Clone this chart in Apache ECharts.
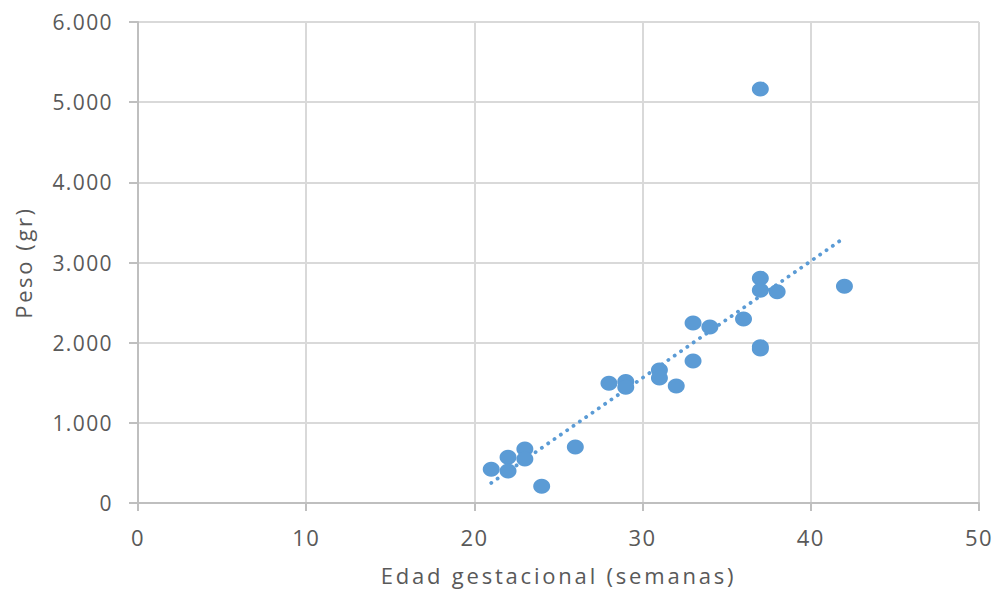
<!DOCTYPE html>
<html>
<head>
<meta charset="utf-8">
<script src="https://cdn.jsdelivr.net/npm/echarts@6/dist/echarts.min.js"></script>
<style>
  html, body { margin: 0; padding: 0; background: #fff; }
  #chart { width: 996px; height: 591px; }
</style>
</head>
<body>
<div id="chart"></div>
<script>
// semanas de gestación y peso al nacer (gr)
var edad = [21, 22, 22, 23, 23, 24, 26, 28, 29, 29, 31, 31, 32, 33, 33, 34, 36, 37, 37, 37, 37, 37, 38, 42];
var peso = [420, 570, 400, 675, 550, 210, 700, 1495, 1515, 1445, 1660, 1560, 1460, 2245, 1770, 2195, 2295, 5165, 2805, 2655, 1950, 1920, 2635, 2705];
// extremos de la línea de tendencia
var tendX = [21, 41.8];
var tendY = [250, 3280];
var yTicks = ['0', '1.000', '2.000', '3.000', '4.000', '5.000', '6.000'];

var azul = '#5B9BD5';
var gris = '#595959';
var nombreX = 'Edad gestacional (semanas)';
var nombreY = 'Peso (gr)';

var puntos = edad.map(function (e, i) { return [e, peso[i]]; });
var tendencia = tendX.map(function (x, i) { return [x, tendY[i]]; });

var chart = echarts.init(document.getElementById('chart'), null, { renderer: 'svg' });

// el gráfico original tiene el texto algo espaciado (estilo Excel)
function espaciarTexto() {
    var textos = chart.getDom().querySelectorAll('text');
    textos.forEach(function (t) {
        var s = t.textContent;
        if (s === nombreX) t.style.letterSpacing = '2.8px';
        else if (s === nombreY) t.style.letterSpacing = '2.6px';
        else t.style.letterSpacing = '1.4px';
    });
}

chart.setOption({
    animation: false,
    grid: { left: 138, right: 17, top: 22, bottom: 88, containLabel: false, outerBoundsMode: 'none' },
    xAxis: {
        type: 'value', min: 0, max: 50, interval: 10,
        name: nombreX, nameLocation: 'middle', nameGap: 61,
        nameTextStyle: { color: gris, fontSize: 22, fontFamily: 'Open Sans' },
        axisLine: { show: true, onZero: false, lineStyle: { color: '#bfbfbf', width: 2 } },
        axisTick: { show: true, length: 8, lineStyle: { color: '#bfbfbf', width: 2 } },
        axisLabel: { color: gris, fontSize: 22, fontFamily: 'Open Sans', margin: 23 },
        splitLine: { show: true, lineStyle: { color: '#d9d9d9', width: 2 } }
    },
    yAxis: {
        type: 'value', min: 0, max: 6000, interval: 1000,
        name: nombreY, nameLocation: 'middle', nameGap: 104, nameRotate: 90,
        nameTextStyle: { color: gris, fontSize: 22, fontFamily: 'Open Sans' },
        axisLine: { show: true, onZero: false, lineStyle: { color: '#bfbfbf', width: 2 } },
        axisTick: { show: true, length: 9, lineStyle: { color: '#bfbfbf', width: 2 } },
        axisLabel: {
            color: gris, fontSize: 21, fontFamily: 'Open Sans', margin: 25,
            formatter: function (v) { return yTicks[Math.round(v / 1000)]; }
        },
        splitLine: { show: true, lineStyle: { color: '#d9d9d9', width: 2 } }
    },
    series: [
        {
            type: 'line',
            data: tendencia,
            symbol: 'none',
            lineStyle: { color: azul, width: 3.8, type: [0.1, 7.6], cap: 'round' },
            z: 1
        },
        {
            type: 'scatter',
            data: puntos,
            symbol: 'circle',
            symbolSize: [17, 15],
            itemStyle: { color: azul, opacity: 1 },
            z: 2
        }
    ]
});
espaciarTexto();
chart.on('finished', espaciarTexto);
</script>
</body>
</html>
